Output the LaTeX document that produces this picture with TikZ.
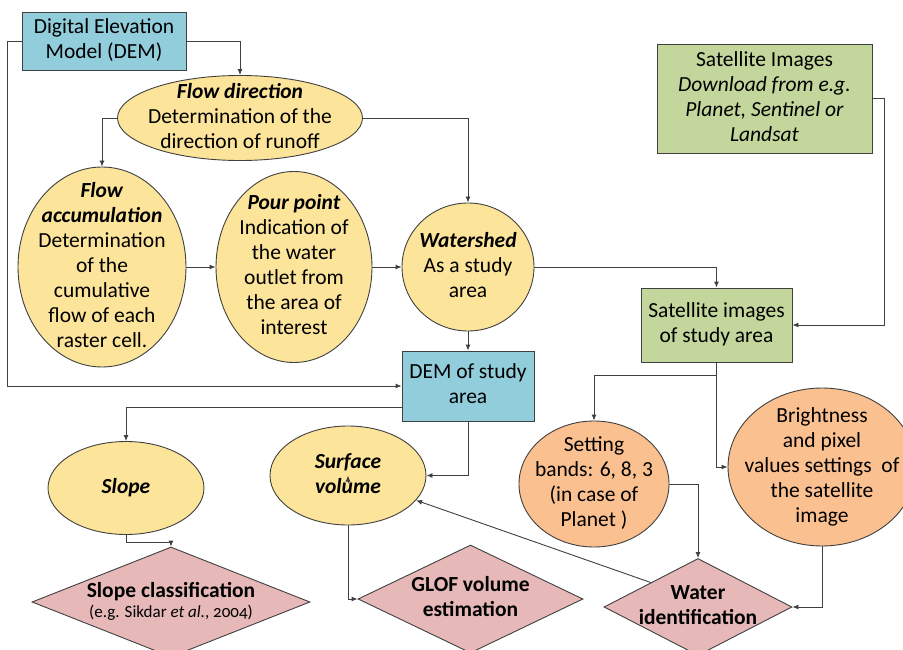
\documentclass[tikz,border=0pt]{standalone}
\usepackage{fontspec}
\setmainfont{Carlito}
\usetikzlibrary{shapes.geometric, arrows.meta}

\newcommand{\boxtext}[1]{\smash{\makebox[0pt]{\raisebox{-0.25em}{\begin{tabular}{@{}c@{}}#1\end{tabular}}}}}
\newcommand{\bfit}[1]{\textbf{\textit{#1}}}

\definecolor{demblue}{HTML}{92CDDC}
\definecolor{satgreen}{HTML}{C3D69B}
\definecolor{stepyellow}{HTML}{FCE49B}
\definecolor{bandorange}{HTML}{FAC090}
\definecolor{outpink}{HTML}{E6B9B8}

\begin{document}
\begin{tikzpicture}[x=1pt, y=-1pt, >={Latex[length=6pt,width=5pt]},
	block/.style={draw=black!75, line width=0.9pt, inner sep=0pt, font=\fontsize{21.5}{25}\selectfont},
	dembox/.style={block, rectangle, fill=demblue},
	satbox/.style={block, rectangle, fill=satgreen},
	task/.style={block, ellipse, fill=stepyellow},
	band/.style={block, ellipse, fill=bandorange},
	output/.style={block, diamond, fill=outpink},
	conn/.style={draw=black!75, line width=0.9pt, ->}]

	\path[use as bounding box] (0,0) rectangle (903,650);
	\clip (0,0) rectangle (903,650);

	% DEM branch
	\node[dembox, minimum width=164pt, minimum height=58pt] (dem) at (104,41) {\boxtext{Digital Elevation\\Model (DEM)}};
	\node[task, minimum width=245pt, minimum height=85pt] (flowdir) at (240,118) {\boxtext{\bfit{Flow direction}\\Determination of the\\direction of runoff}};
	\node[task, minimum width=168pt, minimum height=200pt] (flowacc) at (102,267) {\boxtext{\bfit{Flow}\\\bfit{accumulation}\\Determination\\of the\\cumulative\\flow of each\\raster cell.}};
	\node[task, minimum width=156pt, minimum height=191pt] (pour) at (294,267) {\boxtext{\bfit{Pour point}\\Indication of\\the water\\outlet from\\the area of\\interest}};
	\node[task, minimum width=132pt, minimum height=128pt] (watershed) at (468,267) {\boxtext{\bfit{Watershed}\\As a study\\area}};
	\node[dembox, minimum width=132pt, minimum height=70pt] (demstudy) at (468,386) {\boxtext{DEM of study\\area}};
	\node[task, minimum width=156pt, minimum height=93pt] (slope) at (126,488) {\boxtext{\bfit{Slope}}};
	\node[task, minimum width=156pt, minimum height=99pt] (surfvol) at (348,475.5) {\boxtext{\bfit{Surface}\\\bfit{volume}}};
	\node[output, minimum width=278pt, minimum height=110pt] (slopecls) at (171,602) {\boxtext{\textbf{Slope classification}\\[-5pt]{\fontsize{17}{20}\selectfont\addfontfeatures{Numbers=OldStyle}(e.g. Sikdar \textit{et al.}, 2004)}}};
	\node[output, minimum width=225pt, minimum height=108pt] (glof) at (470.5,599) {\boxtext{\textbf{GLOF volume}\\\textbf{estimation}}};

	% satellite branch
	\node[satbox, minimum width=215pt, minimum height=109pt] (satimg) at (764.5,98.5) {\boxtext{Satellite Images\\\textit{Download from e.g.}\\\textit{Planet, Sentinel or}\\\textit{Landsat}}};
	\node[satbox, minimum width=151pt, minimum height=74pt] (satstudy) at (716.5,325) {\boxtext{Satellite images\\of study area}};
	\node[band, minimum width=150pt, minimum height=126pt] (setband) at (594,484) {\boxtext{Setting\\bands: 6, 8, 3\\(in case of\\Planet )}};
	\node[band, minimum width=188pt, minimum height=158pt] (bright) at (822,467) {\boxtext{Brightness\\and pixel\\values settings~ of\\the satellite\\image}};
	\node[output, minimum width=188pt, minimum height=97pt] (water) at (698,607) {\boxtext{\textbf{Water}\\\textbf{identification}}};

	\path[conn] (dem.east) -| (flowdir.north);
	\path[conn] (dem.west) -- ++(-14,0) |- (demstudy.west);
	\path[conn] (flowdir.west) -| (flowacc.north);
	\path[conn] (flowdir.east) -| (watershed.north);
	\path[conn] (flowacc.east) -- (pour.west);
	\path[conn] (pour.east) -- (watershed.west);
	\path[conn] (watershed.east) -| (satstudy.north);
	\path[conn] (watershed.south) -- (demstudy.north);
	\path[conn] (satimg.east) -- ++(12,0) |- (satstudy.east);
	\path[conn] ([yshift=-21pt]demstudy.west) -| (slope.north);
	\path[conn] (demstudy.south) |- (surfvol.east);
	\path[conn] ([yshift=-7pt]surfvol.center) -- (surfvol.center);
	\path[conn] (slope.south) -- ++(0,7) -| (slopecls.north);
	\path[conn] (surfvol.south) |- (glof.west);
	\path[conn] (water.north west) -- (surfvol.-20);
	\path[conn] (satstudy.south) -- ++(0,13) -| (setband.north);
	\path[conn] (satstudy.south) |- (bright.west);
	\path[conn] (setband.east) -| (water.north);
	\path[conn] (bright.south) |- (water.east);

\end{tikzpicture}
\end{document}
